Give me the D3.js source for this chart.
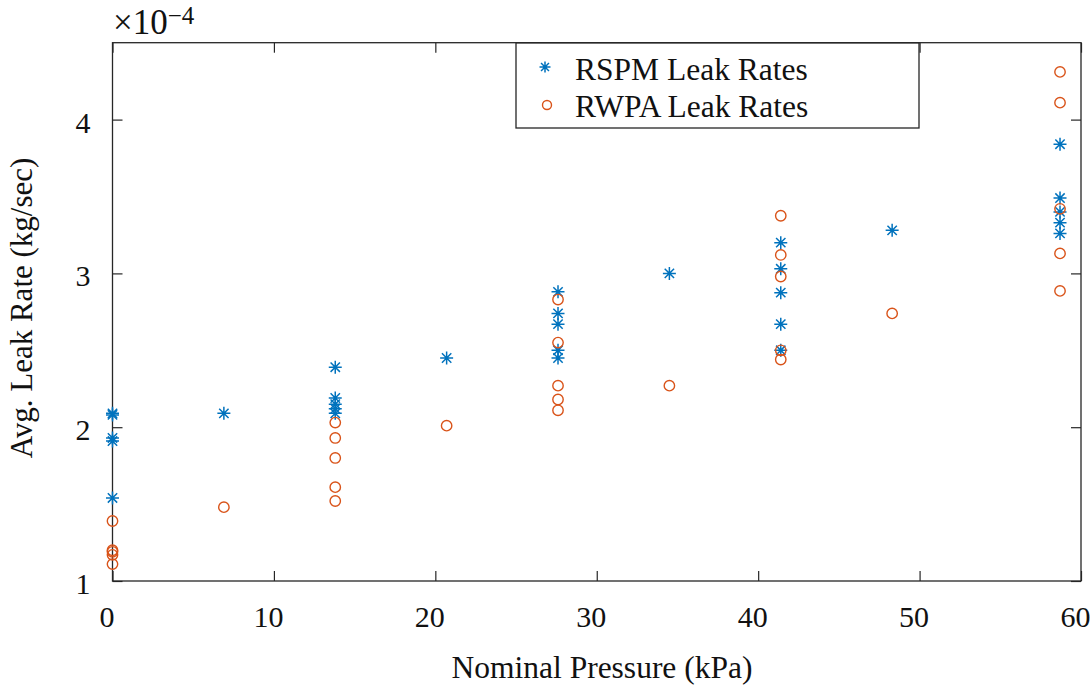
<!DOCTYPE html>
<html>
<head>
<meta charset="utf-8">
<script src="https://cdn.jsdelivr.net/npm/d3@7"></script>
<style>
  html, body { margin: 0; padding: 0; background: #fff; }
  text { font-family: "Liberation Serif", "Times New Roman", serif; fill: #111; }
</style>
</head>
<body>
<svg id="chart" width="1092" height="686"></svg>
<script>
// ---- data (values in units of 1e-4 kg/sec) ----
const rspmPressure = [0,0,0,0,0, 6.9, 13.8,13.8,13.8,13.8,13.8, 20.7, 27.6,27.6,27.6,27.6,27.6, 34.5, 41.4,41.4,41.4,41.4,41.4, 48.3, 58.7,58.7,58.7,58.7,58.7];
const rspmRate = [2.09,2.08,1.93,1.91,1.54, 2.09, 2.39,2.19,2.15,2.12,2.09, 2.45, 2.88,2.74,2.67,2.50,2.45, 3.00, 3.20,3.03,2.875,2.67,2.50, 3.28, 3.84,3.49,3.40,3.33,3.26];
const rwpaPressure = [0,0,0,0,0, 6.9, 13.8,13.8,13.8,13.8,13.8, 20.7, 27.6,27.6,27.6,27.6,27.6, 34.5, 41.4,41.4,41.4,41.4,41.4, 48.3, 58.7,58.7,58.7,58.7,58.7];
const rwpaRate = [1.39,1.20,1.19,1.17,1.11, 1.48, 2.03,1.93,1.80,1.61,1.52, 2.01, 2.83,2.55,2.27,2.18,2.11, 2.27, 3.375,3.12,2.98,2.50,2.44, 2.74, 4.31,4.11,3.42,3.13,2.886];
const xTicks = [0,10,20,30,40,50,60];
const yTicks = [1,2,3,4];
const seriesNames = ["RSPM Leak Rates", "RWPA Leak Rates"];
const colors = ["#0072BD", "#D95319"];

// ---- layout ----
const svg = d3.select("#chart");
const L = 112.5, R = 1081, T = 42.7, B = 581;
const x = d3.scaleLinear().domain([0, 60]).range([L, R]);
const y = d3.scaleLinear().domain([1, 4.5]).range([B, T]);
const axisColor = "#262626";

svg.append("rect").attr("width", 1092).attr("height", 686).attr("fill", "#fff");

// axes (inward ticks), bottom/top/left/right
const tickLen = 10;
const gB = svg.append("g").attr("transform", `translate(0,${B})`)
  .call(d3.axisBottom(x).tickValues(xTicks).tickSizeInner(-tickLen).tickSizeOuter(0).tickFormat(d3.format("d")));
const gT = svg.append("g").attr("transform", `translate(0,${T})`)
  .call(d3.axisTop(x).tickValues(xTicks).tickSizeInner(-tickLen).tickSizeOuter(0).tickFormat(""));
const gL = svg.append("g").attr("transform", `translate(${L},0)`)
  .call(d3.axisLeft(y).tickValues(yTicks).tickSizeInner(-tickLen).tickSizeOuter(0).tickFormat(d3.format("d")));
const gR = svg.append("g").attr("transform", `translate(${R},0)`)
  .call(d3.axisRight(y).tickValues(yTicks).tickSizeInner(-tickLen).tickSizeOuter(0).tickFormat(""));
[gB, gT, gL, gR].forEach(g => {
  g.select(".domain").remove();
  g.selectAll(".tick line").attr("stroke", axisColor).attr("stroke-width", 1.2);
});
gB.selectAll(".tick text")
  .attr("font-family", "Liberation Serif").attr("font-size", 30).attr("fill", "#111")
  .attr("y", null).attr("dy", null).attr("x", -6)
  .attr("transform", "translate(0,46)");
gL.selectAll(".tick text")
  .attr("font-family", "Liberation Serif").attr("font-size", 30).attr("fill", "#111")
  .attr("x", -22).attr("dy", null).attr("y", 12.5);

// frame
svg.append("rect").attr("x", L).attr("y", T).attr("width", R - L).attr("height", B - T)
  .attr("fill", "none").attr("stroke", axisColor).attr("stroke-width", 1.3);

// exponent label
const ex = svg.append("text").attr("x", 113).attr("y", 34).attr("font-size", 35);
ex.append("tspan").text("×10");
ex.append("tspan").attr("dy", -10).attr("font-size", 25).text("−4");

// axis labels
svg.append("text").attr("x", 602).attr("y", 678).attr("text-anchor", "middle")
  .attr("font-size", 31.5).text("Nominal Pressure (kPa)");
svg.append("text").attr("transform", "translate(32,308) rotate(-90)").attr("text-anchor", "middle")
  .attr("font-size", 31).text("Avg. Leak Rate (kg/sec)");

// markers
function star(g, cx, cy, r, color) {
  const d = r * 0.72;
  const p = `M${cx - r},${cy}L${cx + r},${cy}M${cx},${cy - r}L${cx},${cy + r}` +
            `M${cx - d},${cy - d}L${cx + d},${cy + d}M${cx - d},${cy + d}L${cx + d},${cy - d}`;
  g.append("path").attr("d", p).attr("stroke", color).attr("stroke-width", 1.5).attr("fill", "none");
}
const gS = svg.append("g");
rspmRate.forEach((v, i) => star(gS, x(rspmPressure[i]), y(v), 6.5, colors[0]));
svg.append("g").selectAll("circle").data(rwpaRate).join("circle")
  .attr("cx", (d, i) => x(rwpaPressure[i])).attr("cy", d => y(d)).attr("r", 5.2)
  .attr("fill", "none").attr("stroke", colors[1]).attr("stroke-width", 1.4);

// legend
const lg = svg.append("g");
lg.append("rect").attr("x", 516).attr("y", 43).attr("width", 403).attr("height", 85)
  .attr("fill", "#fff").attr("stroke", axisColor).attr("stroke-width", 1.3);
star(lg, 545, 67, 5.5, colors[0]);
lg.append("circle").attr("cx", 547).attr("cy", 105).attr("r", 4.5)
  .attr("fill", "none").attr("stroke", colors[1]).attr("stroke-width", 1.4);
lg.append("text").attr("x", 575).attr("y", 80).attr("font-size", 31.5).text(seriesNames[0]);
lg.append("text").attr("x", 575).attr("y", 117).attr("font-size", 31.5).text(seriesNames[1]);
</script>
</body>
</html>
